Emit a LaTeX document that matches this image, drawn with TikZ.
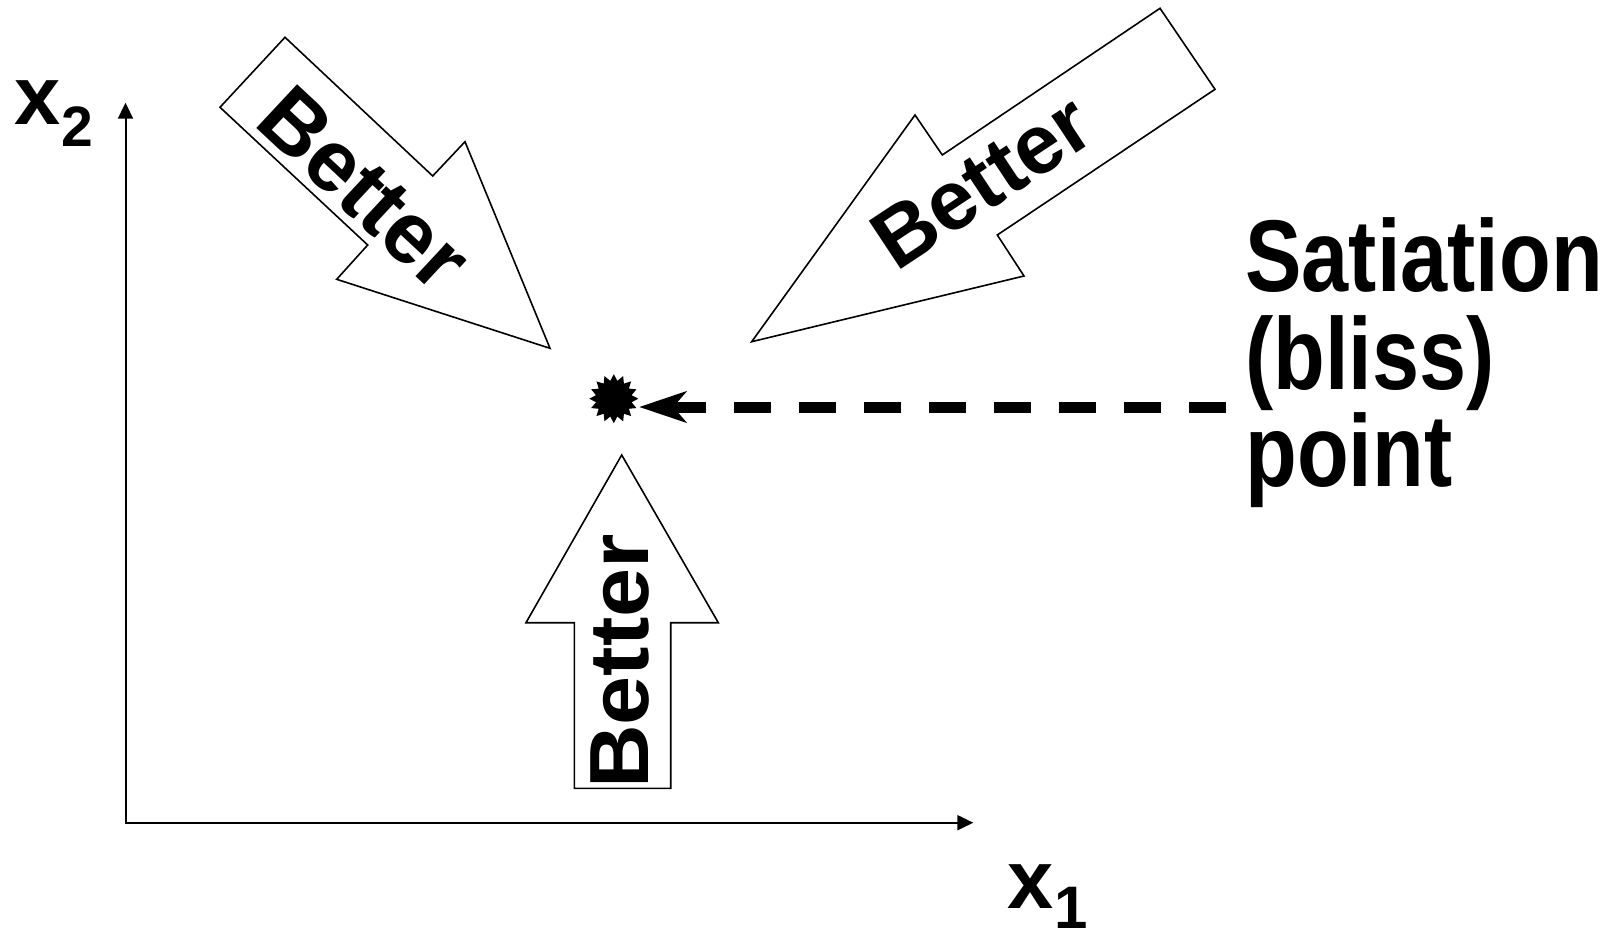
\documentclass[tikz,border=0pt]{standalone}
\usepackage{fontspec}
\setmainfont{Liberation Sans}
\usetikzlibrary{arrows.meta,shapes.geometric}
\begin{document}
\begin{tikzpicture}[x=0.5pt,y=-0.5pt,
  bigarrow/.style={draw=black,line width=0.8pt,fill=white,line join=miter},
  bettertext/.style={font=\fontsize{42}{42}\selectfont\bfseries,inner sep=0pt,anchor=base west},
  sattext/.style={font=\fontsize{51}{51}\selectfont\bfseries,inner sep=0pt,anchor=base west},
  lbl/.style={font=\fontsize{41.5}{41.5}\selectfont\bfseries,inner sep=0pt,anchor=base west},
  axisline/.style={line width=1pt,{Triangle[length=8pt,width=7.5pt]}-{Triangle[length=8pt,width=7.5pt]}},
  dashline/.style={line width=5.5pt,dash pattern=on 18.4pt off 14.1pt,-{Stealth[length=23.5pt,width=15.5pt,inset=6.5pt]}},
  blissstar/.style={star,star points=16,star point ratio=1.35,fill=black,minimum size=24.5pt,inner sep=0pt}
]
\useasboundingbox (0,0) rectangle (1617,931);

% axes
\coordinate (O) at (125.5,822.7);
\coordinate (xtip) at (973.3,822.7);
\coordinate (ytip) at (125.5,102.7);
\draw[axisline] (ytip) -- (O) -- (xtip);
\node[lbl] (x2) at (14.5,125) {x\raisebox{-11pt}{\fontsize{28.5}{28.5}\selectfont 2}};
\node[lbl] (x1) at (1007.5,908) {x\raisebox{-10pt}{\fontsize{30}{30}\selectfont 1}};

% block arrows
\draw[bigarrow] (285,37.3) -- (432.7,176) -- (465,141.7) -- (550,348.3) -- (336.7,279.3) -- (367.7,245) -- (220,107.3) -- cycle;
\draw[bigarrow] (1160,8.3) -- (1215,89.3) -- (997.3,235) -- (1024,276) -- (751.7,341.7) -- (915,115) -- (942.3,155) -- cycle;
\draw[bigarrow] (621.7,455) -- (718.3,622.7) -- (670.7,622.7) -- (670.7,788.3) -- (574.3,788.3) -- (574.3,622.7) -- (526,622.7) -- cycle;

\node[bettertext,rotate=-43,font=\fontsize{43.5}{43.5}\selectfont\bfseries] (b1) at (252,124) {Better};
\node[bettertext,rotate=33.5] (b2) at (896,272.5) {Better};
\node[bettertext,rotate=90] (b3) at (648.3,789.3) {\scalebox{1.05}[1]{Better}};

% bliss point
\node[blissstar] (bliss) at (613.8,398.7) {};
\coordinate (dashR) at (1226,407);
\draw[dashline] (dashR) -- (bliss.east |- dashR);

\node[sattext] (s1) at (1245,291.7) {\scalebox{0.83}[1]{Satiation}};
\node[sattext] (s2) at (1245,389) {\scalebox{0.83}[1]{(bliss)}};
\node[sattext] (s3) at (1245,486) {\scalebox{0.83}[1]{point}};
\end{tikzpicture}
\end{document}
